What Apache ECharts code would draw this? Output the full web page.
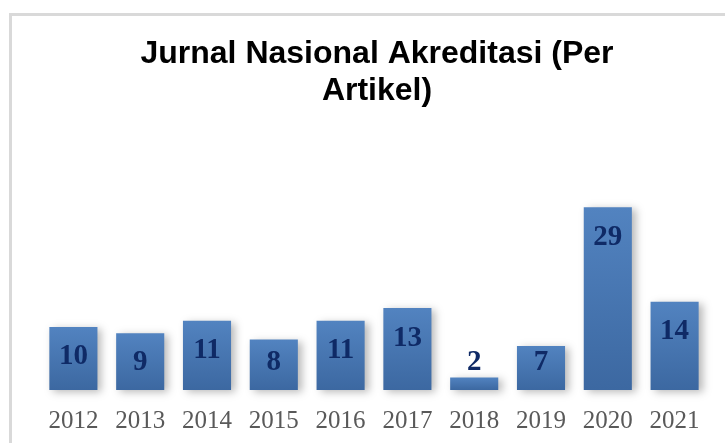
<!DOCTYPE html>
<html>
<head>
<meta charset="utf-8">
<script src="https://cdn.jsdelivr.net/npm/echarts@6/dist/echarts.min.js"></script>
<style>
  html, body { margin: 0; padding: 0; background: #fff; }
  #main { width: 725px; height: 443px; }
</style>
</head>
<body>
<div id="main"></div>
<script>
const chart = echarts.init(document.getElementById("main"));

// Data
const chartTitle = "Jurnal Nasional Akreditasi (Per\nArtikel)";
const years = ["2012", "2013", "2014", "2015", "2016", "2017", "2018", "2019", "2020", "2021"];
const articleCounts = [10, 9, 11, 8, 11, 13, 2, 7, 29, 14];

const option = {
  animation: false,
  title: {
    text: chartTitle,
    left: 372,
    top: 31,
    textAlign: "center",
    textStyle: {
      fontFamily: "Liberation Sans",
      fontWeight: "bold",
      fontSize: 32,
      lineHeight: 37,
      color: "#000",
    },
  },
  graphic: [
    {
      type: "rect",
      left: 8,
      top: 12,
      shape: { width: 800, height: 500 },
      style: { fill: "none", stroke: "#d9d9d9", lineWidth: 3 },
      silent: true,
    },
  ],
  grid: { left: 40, right: 17, top: 201, bottom: 53 },
  xAxis: {
    type: "category",
    data: years,
    axisLine: { show: false },
    axisTick: { show: false },
    axisLabel: {
      margin: 19,
      fontFamily: "Liberation Serif",
      fontSize: 25,
      color: "#595959",
    },
  },
  yAxis: {
    type: "value",
    min: 0,
    max: 30,
    show: false,
  },
  series: [
    {
      type: "bar",
      data: articleCounts,
      barCategoryGap: "28%",
      itemStyle: {
        color: new echarts.graphic.LinearGradient(0, 0, 0, 1, [
          { offset: 0, color: "#5283c0" },
          { offset: 1, color: "#3c68a1" },
        ]),
        shadowColor: "rgba(0,0,0,0.28)",
        shadowBlur: 8,
        shadowOffsetX: 4,
        shadowOffsetY: 2,
      },
      label: {
        show: true,
        position: "insideTop",
        align: "center",
        verticalAlign: "middle",
        fontFamily: "Liberation Serif",
        fontWeight: "bold",
        fontSize: 29,
        color: "#0f2a66",
      },
    },
  ],
};

chart.setOption(option);

// Place each value label ~30px under the bar top, but never lower than a floor near the base
const labelledData = articleCounts.map((v, i) => {
  const top = chart.convertToPixel({ gridIndex: 0 }, [i, v])[1];
  const base = chart.convertToPixel({ gridIndex: 0 }, [i, 0])[1];
  const centerY = Math.min(top + 30, base - 27);
  return { value: v, label: { position: ["50%", centerY - top] } };
});

chart.setOption({ series: [{ data: labelledData }] });
</script>
</body>
</html>
